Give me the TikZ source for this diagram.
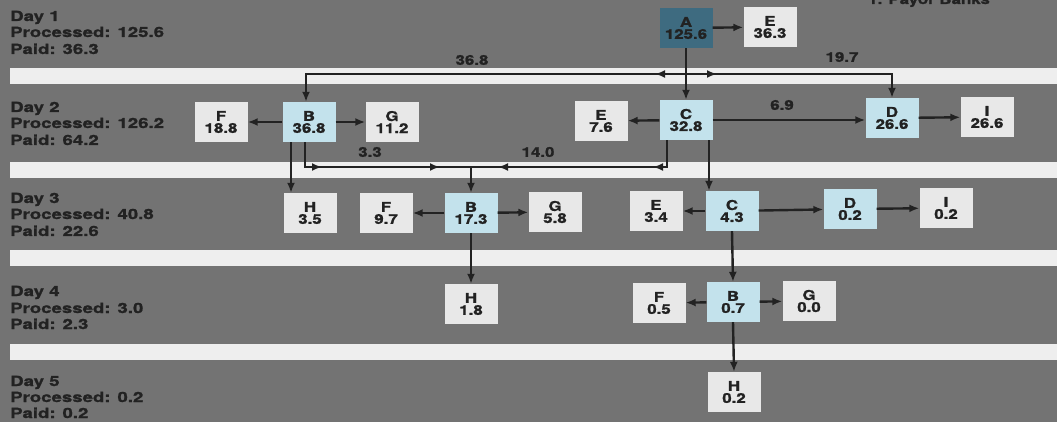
\documentclass[tikz,border=0pt]{standalone}
\usepackage{fontspec}
\newfontfamily\herosbox{TeX Gyre Heros}[FakeStretch=1.25,FakeBold=1.2]
\newfontfamily\herosday{TeX Gyre Heros}[FakeStretch=1.33,FakeBold=1.2]
\usetikzlibrary{arrows.meta}
\definecolor{bg}{HTML}{737373}
\definecolor{band}{HTML}{EEEEEE}
\definecolor{boxg}{HTML}{E8E8E8}
\definecolor{boxb}{HTML}{C3E2EC}
\definecolor{boxa}{HTML}{3E6B80}
\definecolor{ink}{HTML}{222222}
\begin{document}
\begin{tikzpicture}[x=1pt,y=-1pt,
  bank/.style={draw=none, minimum width=53pt, minimum height=40pt, inner sep=0pt,
    align=center, text=ink, font=\herosbox\bfseries\fontsize{13.5}{12}\selectfont},
  gbox/.style={bank, fill=boxg},
  bbox/.style={bank, fill=boxb},
  abox/.style={bank, fill=boxa, text=ink},
  flow/.style={draw=ink, line width=2.4pt},
  head/.style={-{Latex[length=10pt,width=8pt]}},
  lab/.style={inner sep=0pt, text=ink, font=\herosbox\bfseries\fontsize{13.5}{12}\selectfont},
  day/.style={anchor=base west, inner sep=0pt, text=ink,
    font=\herosday\bfseries\fontsize{14}{16}\selectfont}
]
\useasboundingbox (0,0) rectangle (1057,422);
\clip (0,0) rectangle (1057,422);
\fill[bg] (0,0) rectangle (1057,422);
% bands
\fill[band] (10,68) rectangle (1057,84);
\fill[band] (10,162) rectangle (1057,178);
\fill[band] (10,250) rectangle (1057,266);
\fill[band] (10,344) rectangle (1057,360);
% title (cut at the top edge, as in the original)
\node[lab, anchor=base west] (title) at (868,4) {1. Payor Banks};
% day labels
\node[day] (d1a) at (10,21) {Day 1};
\node[day] (d1b) at (10,37) {Processed: 125.6};
\node[day] (d1c) at (10,54) {Paid: 36.3};
\node[day] (d2a) at (10,112) {Day 2};
\node[day] (d2b) at (10,128) {Processed: 126.2};
\node[day] (d2c) at (10,145) {Paid: 64.2};
\node[day] (d3a) at (10,203) {Day 3};
\node[day] (d3b) at (10,219) {Processed: 40.8};
\node[day] (d3c) at (10,236) {Paid: 22.6};
\node[day] (d4a) at (10,296) {Day 4};
\node[day] (d4b) at (10,313) {Processed: 3.0};
\node[day] (d4c) at (10,329) {Paid: 2.3};
\node[day] (d5a) at (10,386) {Day 5};
\node[day] (d5b) at (10,402) {Processed: 0.2};
\node[day] (d5c) at (10,418) {Paid: 0.2};
% nodes
\node[abox] (A) at (686,28) {A\\125.6};
\node[gbox] (E1) at (770,27) {E\\36.3};
\node[gbox] (F2) at (221,122) {F\\18.8};
\node[bbox] (B2) at (309,122) {B\\36.8};
\node[gbox] (G2) at (392,122) {G\\11.2};
\node[gbox] (E2) at (601,121) {E\\7.6};
\node[bbox] (C2) at (686,120) {C\\32.8};
\node[bbox] (D2) at (892,118) {D\\26.6};
\node[gbox] (I2) at (987,117) {I\\26.6};
\node[gbox] (H3) at (310,213) {H\\3.5};
\node[gbox] (F3) at (386,213) {F\\9.7};
\node[bbox] (B3) at (471,213) {B\\17.3};
\node[gbox] (G3) at (555,212) {G\\5.8};
\node[gbox] (E3) at (656,211) {E\\3.4};
\node[bbox] (C3) at (732,211) {C\\4.3};
\node[bbox] (D3) at (850,209) {D\\0.2};
\node[gbox] (I3) at (946,208) {I\\0.2};
\node[gbox] (H4) at (471,304) {H\\1.8};
\node[gbox] (F4) at (659,303) {F\\0.5};
\node[bbox] (B4) at (733,302) {B\\0.7};
\node[gbox] (G4) at (809,301) {G\\0.0};
\node[gbox] (H5) at (734,392) {H\\0.2};
% junction coordinates
\coordinate (J1) at (686,74);
\coordinate (L1) at (655,74);
\coordinate (R1) at (717,74);
\coordinate (J2) at (471,167);
\coordinate (a1) at (322,167);
\coordinate (a2) at (440,167);
\coordinate (a3) at (653,167);
\coordinate (a4) at (498,167);
% day 1 connectors
\draw[flow,head] (A) -- (E1);
\draw[flow,head] (A.south) -- (C2.north);
\draw[flow,head] (J1) -| ([xshift=-3pt]B2.north);
\draw[flow,head] (J1) -| (D2.north);
\draw[flow,head] (J1) -- (L1);
\draw[flow,head] (J1) -- (R1);
% day 2 connectors
\draw[flow,head] (B2) -- (F2);
\draw[flow,head] (B2) -- (G2);
\draw[flow,head] (C2) -- (E2);
\draw[flow,head] (C2.east) -- (C2.east -| D2.west);
\draw[flow,head] (D2) -- (I2);
\draw[flow,head] ([xshift=-18pt]B2.south) -- ([xshift=-18pt]B2.south |- H3.north);
\draw[flow] ([xshift=-4pt]B2.south) |- (J2);
\draw[flow,head] ([xshift=-4pt]B2.south |- J2) -- (a1);
\draw[flow,head] (a1) -- (a2);
\draw[flow] ([xshift=-19pt]C2.south) |- (J2);
\draw[flow,head] ([xshift=-19pt]C2.south |- J2) -- (a3);
\draw[flow,head] (a3) -- (a4);
\draw[flow,head] (J2) -- (B3.north);
\draw[flow,head] ([xshift=23pt]C2.south) -- ([xshift=23pt]C2.south |- C3.north);
% day 3 connectors
\draw[flow,head] (B3) -- (F3);
\draw[flow,head] (B3) -- (G3);
\draw[flow,head] (C3) -- (E3);
\draw[flow,head] (C3) -- (D3);
\draw[flow,head] (D3) -- (I3);
\draw[flow,head] (B3.south) -- (H4.north);
\draw[flow,head] (C3.south) -- (B4.north);
% day 4 connectors
\draw[flow,head] (B4) -- (F4);
\draw[flow,head] (B4) -- (G4);
\draw[flow,head] (B4.south) -- (H5.north);
% flow labels
\node[lab] (l368) at (472,60) {36.8};
\node[lab] (l197) at (842,57) {19.7};
\node[lab] (l69) at (782,105) {6.9};
\node[lab] (l33) at (370,152) {3.3};
\node[lab] (l140) at (538,152) {14.0};
\end{tikzpicture}
\end{document}
